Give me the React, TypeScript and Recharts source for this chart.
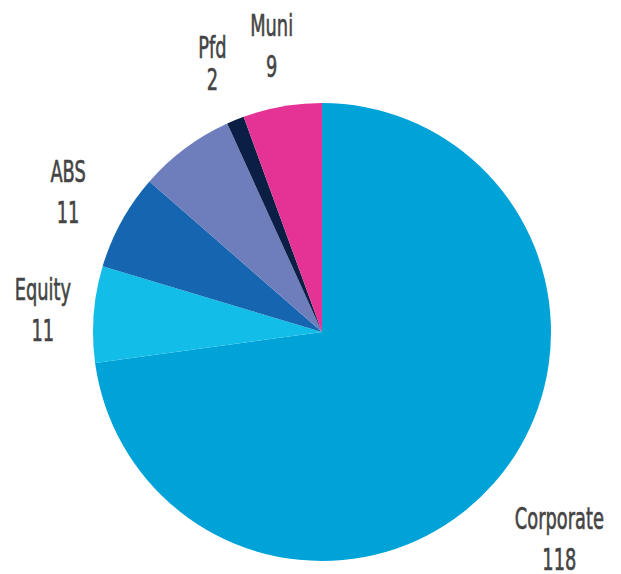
import React from 'react';
import { PieChart, Pie, Cell } from 'recharts';

const categories = ['Corporate', 'Equity', 'ABS', '', 'Pfd', 'Muni'];
const counts = [118, 11, 11, 11, 2, 9];
const COLORS = ['#00A3D8', '#12BEE8', '#1565B0', '#6E7DBC', '#0B1F45', '#E43394'];

const data = categories.map((name, i) => ({ name, value: counts[i] }));

// extra distance of the label centre beyond the pie edge, and line spacing
const LABEL_GAP: Record<string, number> = { Corporate: 86, Equity: 51 };
const LINE_GAP: Record<string, number> = { Pfd: 32 };
const RADIAN = Math.PI / 180;

const renderLabel = (props: any) => {
  const { cx, cy, midAngle, outerRadius, name, value } = props;
  if (!name) return null;
  const r = outerRadius + (LABEL_GAP[name] ?? 61);
  const x = cx + r * Math.cos(-midAngle * RADIAN);
  const y = cy + r * Math.sin(-midAngle * RADIAN);
  const half = (LINE_GAP[name] ?? 41) / 2 / 1.1;
  const style = { fontFamily: '"DejaVu Sans", sans-serif', fontSize: 27 };
  return (
    <g transform={`translate(${x},${y}) scale(0.66,1.1)`}>
      <text x={0} y={-half} textAnchor="middle" dominantBaseline="central" fill="#444" stroke="#444" strokeWidth={0.6} style={style}>{name}</text>
      <text x={0} y={half} textAnchor="middle" dominantBaseline="central" fill="#444" stroke="#444" strokeWidth={0.6} style={style}>{value}</text>
    </g>
  );
};

export default function App() {
  return (
    <PieChart width={613} height={566}>
      <Pie
        data={data}
        dataKey="value"
        cx={309}
        cy={319}
        outerRadius={229}
        startAngle={90}
        endAngle={-270}
        stroke="none"
        label={renderLabel}
        labelLine={false}
        isAnimationActive={false}
      >
        {data.map((entry, index) => (
          <Cell key={`cell-${index}`} fill={COLORS[index % COLORS.length]} />
        ))}
      </Pie>
    </PieChart>
  );
}
